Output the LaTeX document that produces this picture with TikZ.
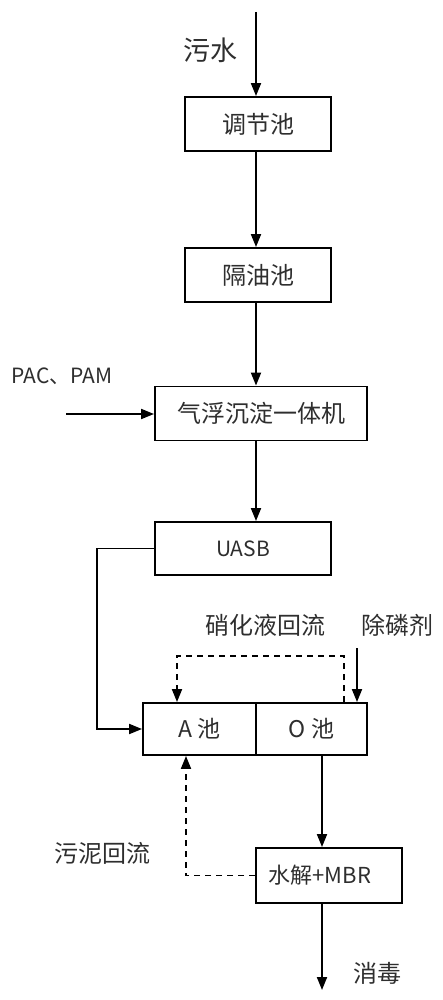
\documentclass[tikz,border=0pt]{standalone}
\usepackage{fontspec}
\setmainfont{Noto Sans CJK SC}
\usetikzlibrary{arrows.meta}
\definecolor{txt}{HTML}{2E2E2E}
\tikzset{
  every node/.style={font=\fontsize{24}{28}\selectfont, text=txt},
  lat/.style={font=\fontsize{21}{25}\selectfont},
  box/.style={draw, line width=1.9pt, rectangle, inner sep=0pt},
  arr/.style={-{Triangle[length=13pt,width=10pt]}},
  ln/.style={line width=1.9pt},
  dsh/.style={dash pattern=on 6pt off 5pt},
}
\begin{document}
\begin{tikzpicture}[x=1pt,y=-1pt]
\useasboundingbox (0,0) rectangle (443,1000);
% boxes
\node[box, minimum width=146, minimum height=54] (tj) at (258,124) {调节池};
\node[box, minimum width=146, minimum height=54] (gy) at (258,275) {隔油池};
\node[box, minimum width=212, minimum height=54] (qf) at (261,413.5) {气浮沉淀一体机};
\node[box, lat, minimum width=176, minimum height=53] (ua) at (243,548.5) {UASB};
\node[box, minimum width=113, minimum height=52, font=\fontsize{23}{27}\selectfont] (A) at (199.5,729) {A 池};
\node[box, minimum width=111, minimum height=52, font=\fontsize{23}{27}\selectfont] (O) at (311.5,729) {O 池};
\node[box, minimum width=146, minimum height=55, font=\fontsize{22}{26}\selectfont] (mbr) at (329,875.5) {\hspace*{-18pt}水解+MBR};
% labels
\node[font=\fontsize{27}{31}\selectfont] (wushui) at (210,50) {污水};
\node[lat] (pac) at (62,376) {PAC、PAM};
\node (xiaohua) at (265,625) {硝化液回流};
\node (chulin) at (397,625) {除磷剂};
\node (wuni) at (102,853) {污泥回流};
\node (xiaodu) at (377,973) {消毒};
% free ends
\coordinate (in) at (256,12);
\coordinate (pacin) at (66,414);
\coordinate (plin) at (357,648);
\coordinate (out) at (322,990);
% main flow
\draw[ln,arr] (in) -- (in |- tj.north);
\draw[ln,arr] (in |- tj.south) -- (in |- gy.north);
\draw[ln,arr] (in |- gy.south) -- (in |- qf.north);
\draw[ln,arr] (in |- qf.south) -- (in |- ua.north);
\draw[ln,arr] (pacin) -- (qf.west |- pacin);
\draw[ln,arr] (ua.west) -- ++(-57,0) |- (A.west);
\draw[ln,arr] (out |- O.south) -- (out |- mbr.north);
\draw[ln,arr] (out |- mbr.south) -- (out);
\draw[ln,arr] (plin) -- (plin |- O.north);
% recycles
\draw[ln,dsh,arr] ([xshift=-24pt]O.north east) -- ++(0,-46) -| ([xshift=-22.5pt]A.north);
\draw[ln,dsh,arr] (mbr.west) -| ([xshift=-13.5pt]A.south);
\end{tikzpicture}
\end{document}
